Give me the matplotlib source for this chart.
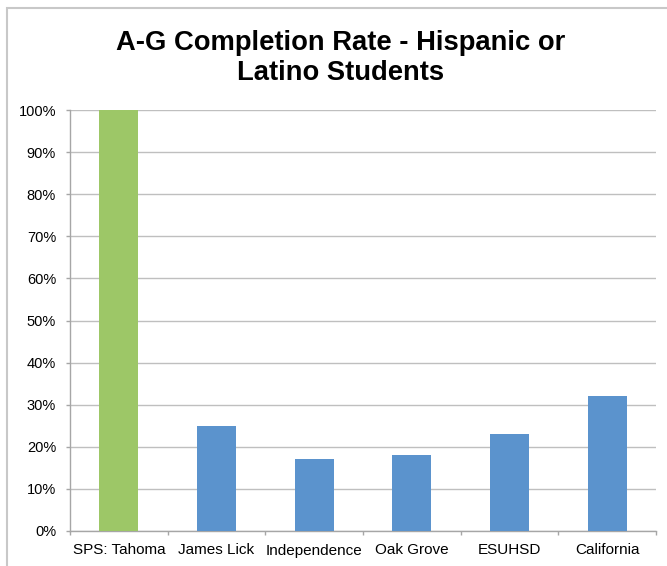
import matplotlib.pyplot as plt
import numpy as np
from matplotlib.patches import Rectangle
from matplotlib.ticker import FixedLocator

plt.rcParams['font.family'] = ['Liberation Sans', 'DejaVu Sans']

schools = ["SPS: Tahoma", "James Lick", "Independence", "Oak Grove", "ESUHSD", "California"]
rates = [100, 25, 17, 18, 23, 32]
bar_colors = ["#9DC767", "#5B93CD", "#5B93CD", "#5B93CD", "#5B93CD", "#5B93CD"]
y_ticks = list(range(0, 101, 10))
title_lines = ["A-G Completion Rate - Hispanic or", "Latino Students"]

fig = plt.figure(figsize=(6.67, 5.66), dpi=100)
fig.patches.append(Rectangle((7 / 667, -0.1), 1.2, 1 - 8 / 566 + 0.1,
                             transform=fig.transFigure, fill=False,
                             edgecolor="#C8C8C8", linewidth=1.5))

ax = fig.add_axes([70 / 667, 1 - 531 / 566, 586 / 667, 421 / 566])
x = np.arange(len(schools))
ax.bar(x, rates, width=0.4, color=bar_colors, zorder=3)

ax.set_xlim(-0.5, len(schools) - 0.5)
ax.set_ylim(0, 100)
ax.set_yticks(y_ticks)
ax.set_yticklabels([f"{v}%" for v in y_ticks], fontsize=10.5)
ax.set_xticks(x)
ax.set_xticklabels(schools, fontsize=11)
ax.xaxis.set_minor_locator(FixedLocator(np.arange(-0.5, len(schools), 1)))
ax.tick_params(axis="x", which="major", length=0, pad=9)
ax.tick_params(axis="x", which="minor", length=3, color="#A6A6A6", width=1)
ax.tick_params(axis="y", length=3, color="#A6A6A6", width=1, pad=7)

ax.grid(axis="y", color="#BFBFBF", linewidth=1, zorder=0)
for side in ["top", "right"]:
    ax.spines[side].set_visible(False)
for side in ["left", "bottom"]:
    ax.spines[side].set_color("#A6A6A6")
    ax.spines[side].set_linewidth(1)

for i, line in enumerate(title_lines):
    fig.text(341 / 667, 1 - (50 + 30 * i) / 566, line, ha="center", va="baseline",
             fontsize=19.7, fontweight="bold")

fig.savefig("out.png", dpi=100)
